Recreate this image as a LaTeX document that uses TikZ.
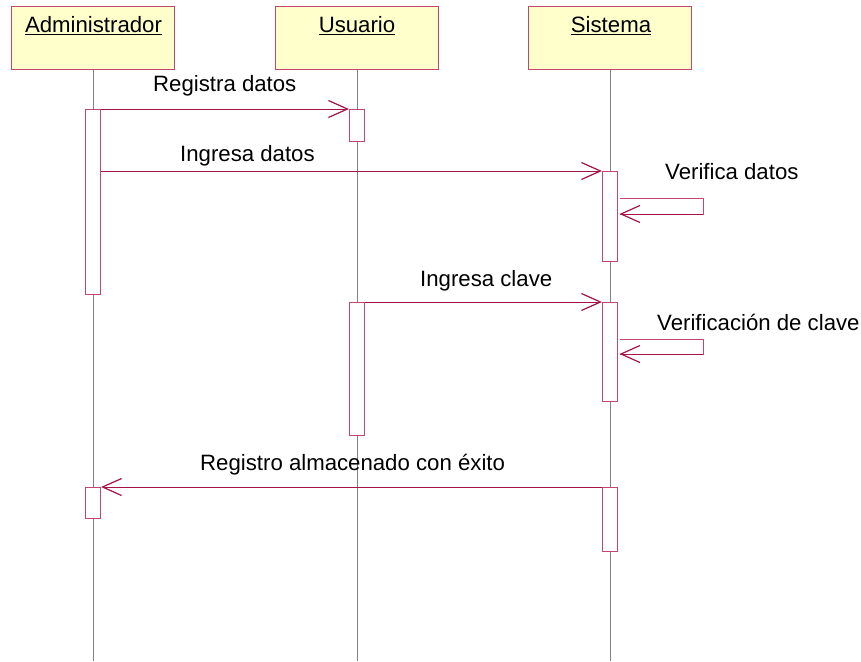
\documentclass[tikz,border=0pt]{standalone}
\usepackage{fontspec}
\setmainfont{Liberation Sans}
\usetikzlibrary{arrows.meta}
\definecolor{umlred}{RGB}{165,20,70}
\definecolor{actred}{RGB}{195,70,110}
\definecolor{hdrfill}{RGB}{255,255,204}
\begin{document}
\begin{tikzpicture}[x=1pt,y=-1pt,
  hdr/.style={draw=actred, fill=hdrfill, line width=1.2pt, minimum width=163pt, minimum height=63pt, inner sep=0pt, anchor=north},
  act/.style={draw=actred, fill=white, line width=1.2pt, minimum width=15pt, inner sep=0pt, anchor=north},
  life/.style={draw=gray, line width=0.7pt},
  msg/.style={draw=umlred, line width=1pt, -{Straight Barb[length=19pt,width=17pt,line width=1.2pt]}},
  self/.style={draw=actred, line width=1pt},
  lbl/.style={anchor=base west, font=\fontsize{22.2}{26}\selectfont, inner sep=0pt, text=black},
  hlbl/.style={anchor=base, font=\fontsize{22.2}{26}\selectfont, inner sep=0pt, text=black}]
\useasboundingbox (0,0) rectangle (861,661);
% headers
\node[hdr] (hA) at (93,6) {};
\node[hdr] (hU) at (357,6) {};
\node[hdr] (hS) at (610,6) {};
\node[hlbl] (tA) at (93.5,33) {\underline{Administrador}};
\node[hlbl] (tU) at (357,33) {\underline{Usuario}};
\node[hlbl] (tS) at (611,33) {\underline{Sistema}};
% lifelines
\coordinate (eA) at (93,661);
\coordinate (eU) at (357,661);
\coordinate (eS) at (610,661);
\draw[life] (hA.south) -- (eA);
\draw[life] (hU.south) -- (eU);
\draw[life] (hS.south) -- (eS);
% activations
\node[act, minimum height=185pt] (a1) at (93,109) {};
\node[act, minimum height=32pt] (u1) at (357,109) {};
\node[act, minimum height=90pt] (s1) at (610,171) {};
\node[act, minimum height=133pt] (u2) at (357,302) {};
\node[act, minimum height=99pt] (s2) at (610,302) {};
\node[act, minimum height=31pt] (a2) at (93,487) {};
\node[act, minimum height=64pt] (s3) at (610,487) {};
% messages
\draw[msg] (a1.north east) -- (u1.north west);
\draw[msg] (a1.east |- s1.north) -- (s1.north west);
\draw[msg] (u2.north east) -- (s2.north west);
\draw[msg] (s3.north west) -- (a2.north east);
% self messages
\coordinate (v1a) at (620,198);
\coordinate (v1b) at (703,198);
\coordinate (v1c) at (703,214);
\coordinate (v1d) at (619.5,214);
\draw[self] (v1a) -- (v1b) -- (v1c) -- (v1d);
\draw[msg] (v1c) -- (v1d);
\coordinate (v2a) at (620,339);
\coordinate (v2b) at (703,339);
\coordinate (v2c) at (703,354);
\coordinate (v2d) at (619.5,354);
\draw[self] (v2a) -- (v2b) -- (v2c) -- (v2d);
\draw[msg] (v2c) -- (v2d);
% labels
\node[lbl] (l1) at (153,91.7) {Registra datos};
\node[lbl] (l2) at (180,161.7) {Ingresa datos};
\node[lbl] (l3) at (420,286) {Ingresa clave};
\node[lbl] (l4) at (200,470) {Registro almacenado con éxito};
\node[lbl] (l5) at (665,179.3) {Verifica datos};
\node[lbl] (l6) at (657,330) {Verificación de clave};
\end{tikzpicture}
\end{document}
